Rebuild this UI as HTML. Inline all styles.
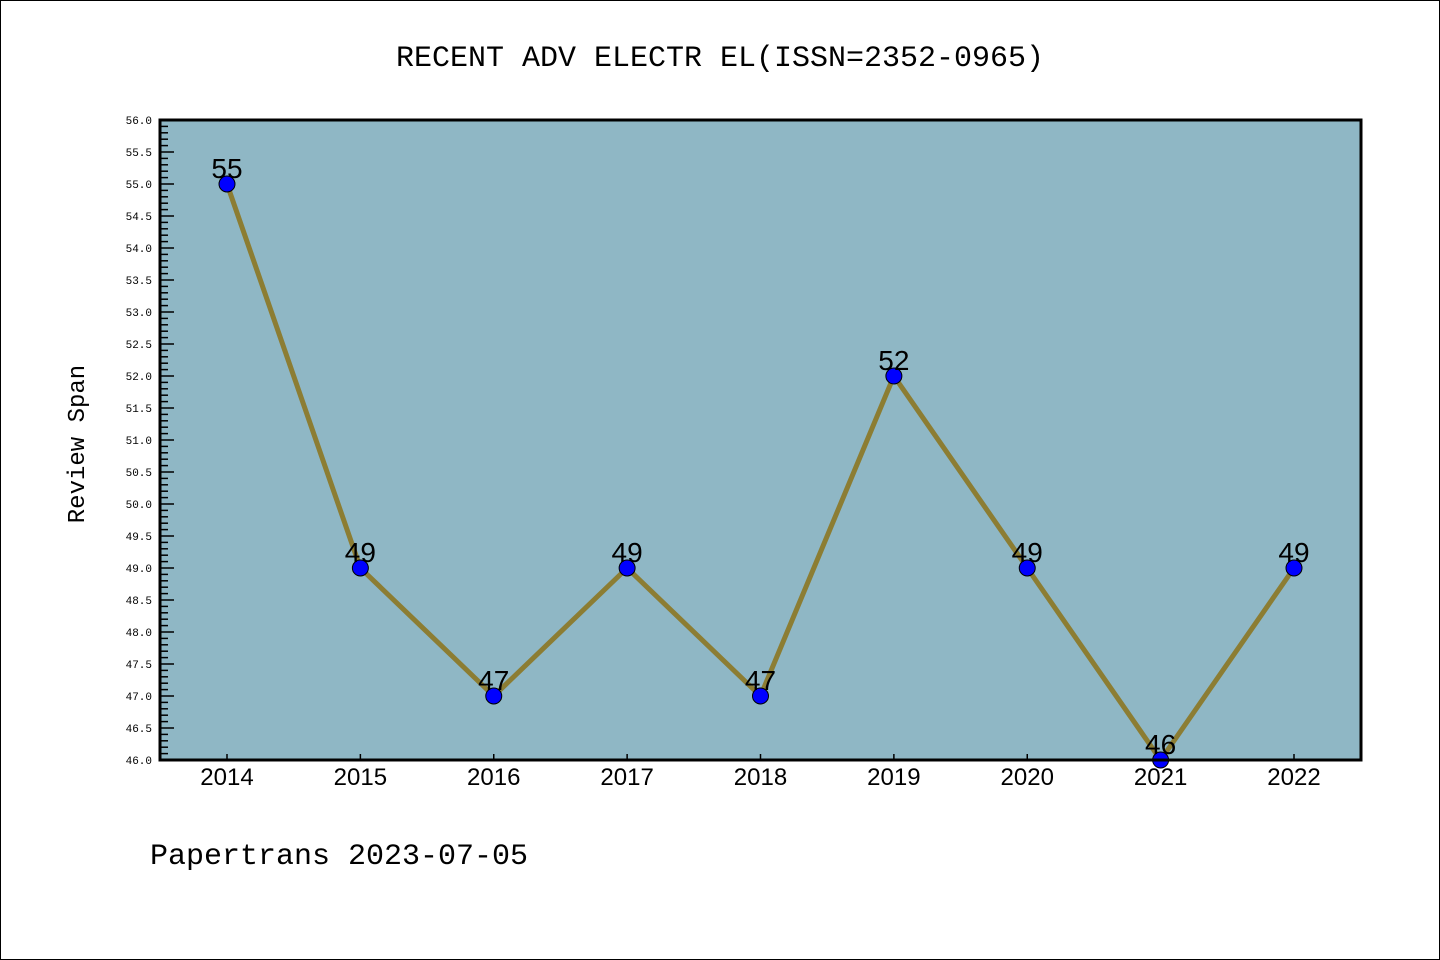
<!DOCTYPE html>
<html><head><meta charset="utf-8"><style>
body{margin:0;background:#fff}
svg{display:block;font-family:"Liberation Mono","DejaVu Sans Mono",monospace}
</style></head><body>
<svg width="1440" height="960" viewBox="0 0 1440 960">
<rect x="0.5" y="0.5" width="1439" height="959" fill="#fff" stroke="#000"/>
<text x="720" y="66" text-anchor="middle" font-size="30">RECENT ADV ELECTR EL(ISSN=2352-0965)</text>
<text transform="translate(84,444) rotate(-90)" text-anchor="middle" font-size="24">Review Span</text>
<text x="150" y="864" font-size="30">Papertrans 2023-07-05</text>
<rect x="160" y="120" width="1201" height="640" fill="#8fb7c5"/>
<g id="yaxis"></g>
<g id="xaxis"></g>
<g id="series"></g>
<rect x="160" y="120" width="1201" height="640" fill="none" stroke="#000" stroke-width="3"/>
</svg>
<script>
const categories=["2014","2015","2016","2017","2018","2019","2020","2021","2022"];
const values=[55,49,47,49,47,52,49,46,49];
const yMin=46, yMax=56;
const NS="http://www.w3.org/2000/svg";
const L=160,R=1361,T=120,B=760;
const x0=227,x1=1294;
function xs(i){return x0+(x1-x0)*i/(categories.length-1);}
function ys(v){return B-(v-yMin)/(yMax-yMin)*(B-T);}
function mk(tag,attrs,parent){const e=document.createElementNS(NS,tag);for(const k in attrs)e.setAttribute(k,attrs[k]);parent.appendChild(e);return e;}
const ya=document.getElementById('yaxis'),xa=document.getElementById('xaxis'),sg=document.getElementById('series');
for(let k=0;k<=100;k++){
  const v=yMin+k*0.1,y=ys(v),major=k%5===0;
  const t=mk('line',{x1:L,x2:L+(major?14:8),y1:y,y2:y,stroke:'#000','stroke-width':1.5},ya);
  
  
  if(major){
    const tx=mk('text',{x:152,y:y+4,'text-anchor':'end','font-size':11},ya);
    
    
    tx.textContent=v.toFixed(1);
  }
}
categories.forEach((c,i)=>{
  const x=xs(i);
  const t=mk('line',{x1:x,x2:x,y1:B,y2:B-6,stroke:'#000','stroke-width':1.5},xa);
  
  
  const tx=mk('text',{x:x,y:785,'text-anchor':'middle','font-size':24,'font-family':'Liberation Sans, sans-serif'},xa);
  
  
  tx.textContent=c;
});
const pts=values.map((v,i)=>xs(i)+','+ys(v)).join(' ');
const pl=mk('polyline',{points:pts,fill:'none',stroke:'#8c7d33','stroke-width':5,'stroke-linejoin':'round'},sg);


values.forEach((v,i)=>{
  const c=mk('circle',{cx:xs(i),cy:ys(v),r:8,fill:'#0000ff',stroke:'#000','stroke-width':1},sg);
  
  
  const t=mk('text',{x:xs(i),y:ys(v)-6,'text-anchor':'middle','font-size':28,'font-family':'Liberation Sans, sans-serif'},sg);
  
  
  t.textContent=v;
});
</script>
</body></html>
